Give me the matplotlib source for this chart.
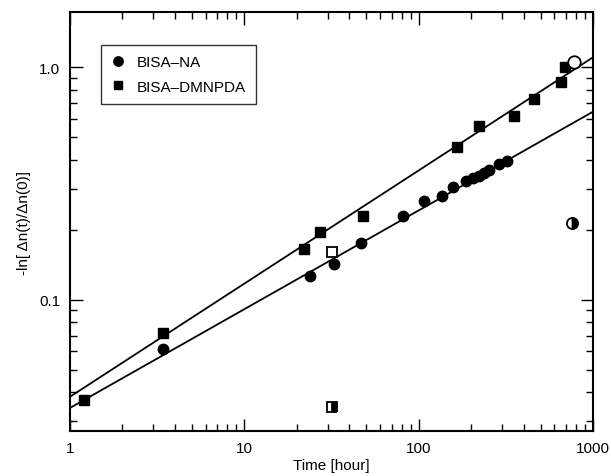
import numpy as np
import matplotlib
matplotlib.use("Agg")
import matplotlib.pyplot as plt
from matplotlib.ticker import FixedLocator, LogLocator, NullFormatter

plt.rcParams['font.family'] = ['Liberation Sans', 'DejaVu Sans']

# BISA-NA (filled circles)
na_t = [3.4, 23.9, 32.9, 47, 81, 107, 137, 157, 186, 204, 221, 237, 252, 288, 321]
na_y = [0.0615, 0.126, 0.143, 0.176, 0.228, 0.267, 0.278, 0.304, 0.323, 0.333,
        0.342, 0.352, 0.363, 0.385, 0.394]

# BISA-DMNPDA (filled squares)
dm_t = [1.2, 3.4, 22.1, 27, 47.7, 167, 221, 352, 458, 655, 690]
dm_y = [0.037, 0.072, 0.166, 0.196, 0.228, 0.452, 0.557, 0.615, 0.727, 0.861, 1.0]

# extra points (open / half filled)
open_sq_t, open_sq_y = [32], [0.161]
half_sq_t, half_sq_y = [32], [0.0346]
open_ci_t, open_ci_y = [778], [1.05]
half_ci_t, half_ci_y = [757], [0.213]

# power-law fits y = a * t**b
fit_dm = (0.0382, 0.487)
fit_na = (0.0342, 0.425)

fig = plt.figure(figsize=(6.11, 4.77), dpi=100)
ax = fig.add_axes([0.1146, 0.0943, 0.8559, 0.8784])

t = np.logspace(0, 3, 50)
ax.plot(t, fit_dm[0] * t ** fit_dm[1], color='black', lw=1.3)
ax.plot(t, fit_na[0] * t ** fit_na[1], color='black', lw=1.3)

ax.plot(na_t, na_y, 'o', color='black', ms=7.5, label='BISA\u2013NA')
ax.plot(dm_t, dm_y, 's', color='black', ms=6.5, label='BISA\u2013DMNPDA')
ax.plot(open_sq_t, open_sq_y, 's', mfc='white', mec='black', mew=1.3, ms=7.5)
ax.plot(half_sq_t, half_sq_y, 's', fillstyle='right', color='black', mfc='black',
        markerfacecoloralt='white', mew=1.3, ms=6.5)
ax.plot(open_ci_t, open_ci_y, 'o', mfc='white', mec='black', mew=1.3, ms=9)
ax.plot(half_ci_t, half_ci_y, 'o', fillstyle='right', color='black', mfc='black',
        markerfacecoloralt='white', mew=1.3, ms=8)

ax.set_xscale('log')
ax.set_yscale('log')
ax.set_xlim(1, 1000)
ax.set_ylim(0.0272, 1.73)

ax.xaxis.set_major_locator(FixedLocator([1, 10, 100, 1000]))
ax.set_xticklabels(['1', '10', '100', '1000'])
ax.xaxis.set_minor_locator(LogLocator(base=10, subs=np.arange(2, 10)))
ax.xaxis.set_minor_formatter(NullFormatter())
ax.yaxis.set_major_locator(FixedLocator([0.1, 1.0]))
ax.set_yticklabels(['0.1', '1.0'])
ax.yaxis.set_minor_locator(LogLocator(base=10, subs=np.arange(2, 10)))
ax.yaxis.set_minor_formatter(NullFormatter())

ax.tick_params(which='both', direction='in', top=True, right=True, labelsize=11, width=1)
ax.tick_params(which='major', length=9, pad=7)
ax.tick_params(which='minor', length=5)
for s in ax.spines.values():
    s.set_linewidth(1.5)

ax.set_xlabel('Time [hour]', fontsize=11, labelpad=2)
ax.set_ylabel('-ln[ \u0394n(t)/\u0394n(0)]', fontsize=11, labelpad=6)

leg = ax.legend(loc='upper left', bbox_to_anchor=(0.059, 0.921), borderaxespad=0,
                fontsize=11, frameon=True, fancybox=False, edgecolor='black',
                handlelength=0.9, handletextpad=0.8, borderpad=0.65, labelspacing=0.7,
                numpoints=1, markerscale=0.9)
leg.get_frame().set_linewidth(1.0)

fig.savefig('out.png', dpi=100)
